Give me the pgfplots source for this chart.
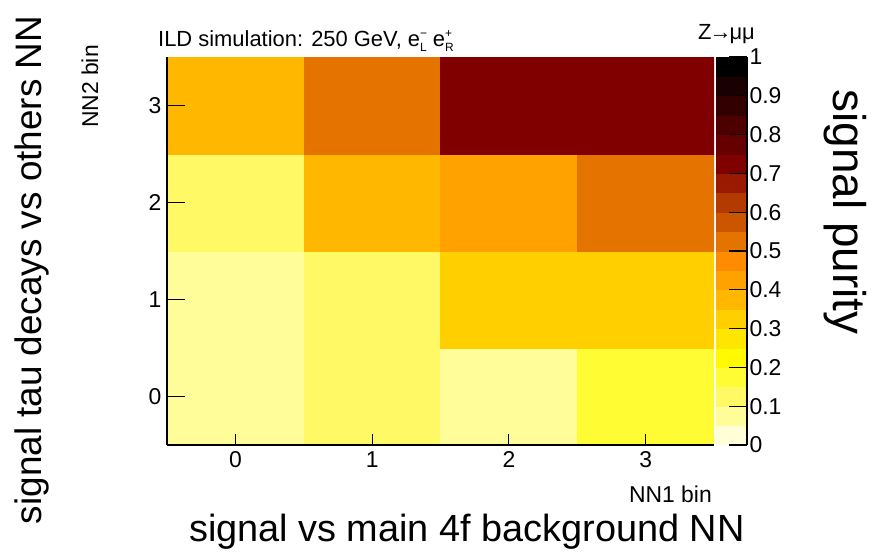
\documentclass[border=0pt]{standalone}
\usepackage{pgfplots}
\pgfplotsset{compat=1.18}
\usepackage{fontspec}
\setmainfont{Liberation Sans}
\newcommand\sm{\fontsize{23}{23}\selectfont}
\newcommand\bigf{\fontsize{38}{38}\selectfont}
\newcommand\pol[2]{\rlap{\raisebox{0.42em}{\fontsize{12}{12}\selectfont#1}}\raisebox{-0.22em}{\fontsize{12}{12}\selectfont#2}}
\pgfplotstableread{
x y c
0 0 0.07
1 0 0.12
2 0 0.07
3 0 0.17
0 1 0.07
1 1 0.12
2 1 0.32
3 1 0.32
0 2 0.12
1 2 0.37
2 2 0.42
3 2 0.52
0 3 0.37
1 3 0.52
2 3 0.72
3 3 0.72
}\purity
\begin{document}
\begin{tikzpicture}[x=1bp,y=1bp]
\path[use as bounding box] (0,0) rectangle (876,552);
\begin{axis}[
  at={(167bp,107bp)}, anchor=south west,
  scale only axis, width=547bp, height=388bp,
  xmin=-0.5, xmax=3.5, ymin=-0.5, ymax=3.5,
  xtick={0,1,2,3}, ytick={0,1,2,3},
  axis x line*=bottom, axis y line*=left,
  axis on top,
  tick align=inside,
  xtick style={/pgfplots/major tick length=11bp},
  ytick style={/pgfplots/major tick length=18bp},
  tick style={black, line width=1.2bp},
  axis line style={line width=1.2bp},
  ticklabel style={font=\sm},
  /pgf/number format/assume math mode=true,
  xticklabel style={yshift=-3bp},
  yticklabel style={xshift=-2bp},
  colormap={purity}{
    rgb255=(255,254,215) rgb255=(255,253,153) rgb255=(255,249,102) rgb255=(255,252,51)
    rgb255=(255,250,0)   rgb255=(255,230,0)   rgb255=(255,207,0)   rgb255=(255,183,0)
    rgb255=(255,162,0)   rgb255=(255,140,0)   rgb255=(229,115,0)   rgb255=(204,85,0)
    rgb255=(179,58,0)    rgb255=(153,26,0)    rgb255=(128,0,0)     rgb255=(102,0,0)
    rgb255=(77,0,0)      rgb255=(51,0,0)      rgb255=(26,0,0)      rgb255=(0,0,0)},
  colormap access=piecewise constant,
  point meta min=0, point meta max=1,
  colorbar,
  colorbar style={
    at={(parent axis.south east)}, anchor=south west, xshift=-6.5bp,
    scale only axis, width=31bp, height=388bp,
    hide x axis,
    axis y line*=right,
    ytick={0,0.1,0.2,0.3,0.4,0.5,0.6,0.7,0.8,0.9,1},
    yticklabels={0,0.1,0.2,0.3,0.4,0.5,0.6,0.7,0.8,0.9,1},
    tick align=inside,
    ytick style={/pgfplots/major tick length=18bp, black, line width=1.2bp},
    axis line style={line width=1.2bp},
    yticklabel style={font=\sm, xshift=-1bp},
  },
]
\addplot[matrix plot*, mesh/cols=4, point meta=explicit] table[x=x, y=y, meta=c] {\purity};
\end{axis}
\node[anchor=base west, font=\fontsize{22}{22}\selectfont, inner sep=0] at (158,505)
  {ILD simulation: 250 GeV, e\pol{−}{L} e\pol{+}{R}};
\node[anchor=base east, font=\fontsize{22}{22}\selectfont, inner sep=0] at (755,512) {Z\kern-2bp→\kern-2bpμμ};
\node[anchor=base east, font=\sm, inner sep=0] at (712,49) {NN1 bin};
\node[anchor=base east, rotate=90, font=\sm, inner sep=0] at (98,507) {NN2 bin};
\node[anchor=base, font=\bigf, inner sep=0] at (467,10) {signal vs main 4f background NN};
\node[anchor=center, rotate=90, font=\fontsize{37}{37}\selectfont, inner sep=0] at (32,282) {signal tau decays vs others NN};
\node[anchor=center, rotate=-90, font=\fontsize{46}{46}\selectfont, inner sep=0] at (845,340) {signal purity};
\end{tikzpicture}
\end{document}
